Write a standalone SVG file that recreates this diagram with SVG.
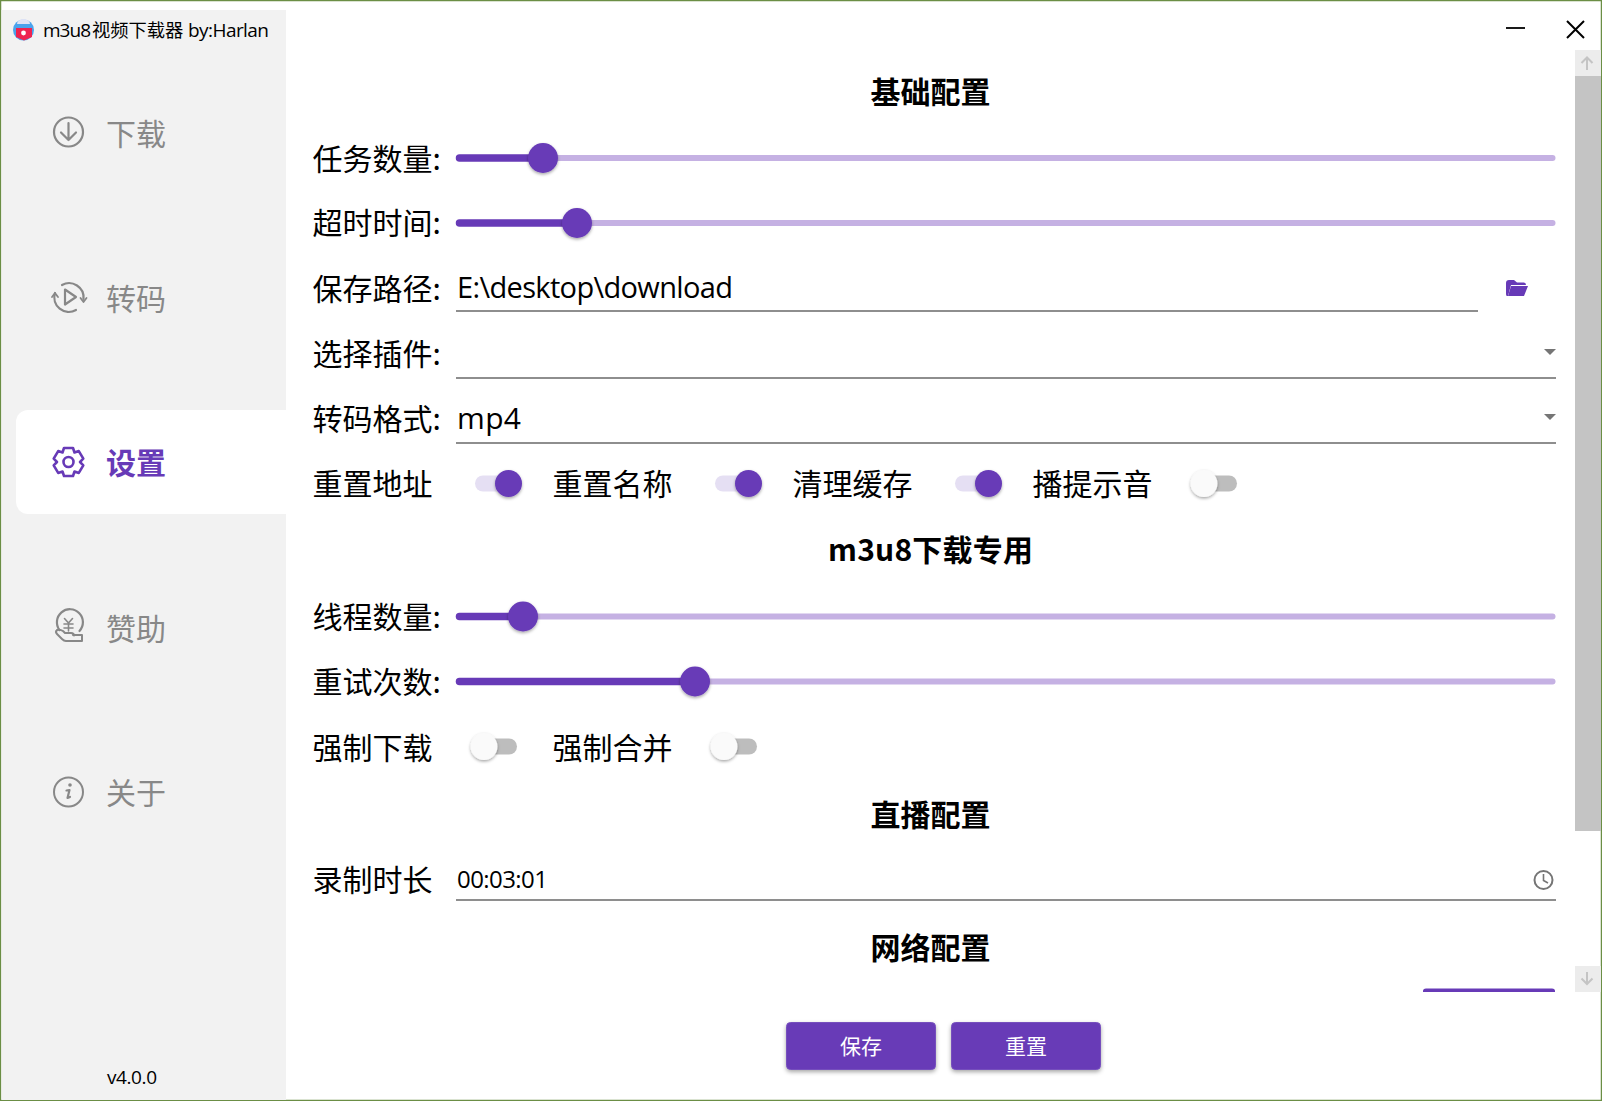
<svg xmlns="http://www.w3.org/2000/svg" width="1602" height="1101" viewBox="0 0 1602 1101">
<defs>
<style>
text{font-family:"Noto Sans CJK SC","Noto Sans",sans-serif;fill:#000}
.l{font-size:30px}
.h{font-size:30px;font-weight:700;text-anchor:middle}
.n{font-size:30px;fill:#888}
.ic{fill:none;stroke:#888;stroke-width:2.2;stroke-linecap:round;stroke-linejoin:round}
.v{font-family:"Open Sans","Noto Sans CJK SC",sans-serif}
.tb{stroke:#c5b1e3;stroke-width:6;stroke-linecap:round}
.ta{stroke:#673ab7;stroke-width:7.5;stroke-linecap:round}
.th{fill:#673ab7}
.u{stroke:#8e8e8e;stroke-width:2}
.on{fill:#e5dff3}
.off{fill:#bdbdbd}
.tf{fill:#fafafa}
.b{fill:#673ab7;stroke:#7650bd;stroke-width:1}
.bt{font-size:21px;fill:#fff;text-anchor:middle}
.ar{fill:#757575}
</style>
<filter id="s" x="-40%" y="-40%" width="180%" height="190%"><feDropShadow dx="0" dy="1.5" stdDeviation="1.6" flood-color="#000" flood-opacity=".35"/></filter>
<filter id="sb" x="-10%" y="-20%" width="120%" height="150%"><feDropShadow dx="0" dy="2" stdDeviation="2" flood-color="#000" flood-opacity=".35"/></filter>
</defs>
<rect width="1602" height="1101" fill="#fff"/>
<g id="window-frame" fill="none" stroke="#6b8e45" stroke-width="1.5"><rect x=".5" y=".5" width="1601" height="1100"/></g>
<g id="sidebar">
<rect x="1.5" y="10" width="284.5" height="1090" fill="#f2f2f2"/>
<rect x="16" y="410" width="270" height="104" rx="12" fill="#fff"/>
<path d="M272 410h14v104h-14z" fill="#fff"/>
</g>
<g id="app-title">
<path d="M13 30a10.500 10.500 0 0 1 21 0a10.500 10.500 0 0 1-21 0z" fill="#4aa3ec"/>
<path d="M17 24a6.500 5 0 0 1 13 0z" fill="#dfe3f5"/>
<path d="M16 28h16v9l-8 3.500-8-3.500z" fill="#ee2350"/>
<circle cx="23.500" cy="33" r="2.400" fill="#fff"/>
<text class="v" x="43" y="37" font-size="19" textLength="48">m3u8</text>
<text class="v" x="92" y="37" font-size="18.300">视频下载器</text>
<text class="v" x="188" y="37" font-size="19" textLength="81">by:Harlan</text>
</g>
<g id="nav-download">
<circle class="ic" cx="68.500" cy="132" r="14.500"/><path class="ic" d="M68.500 123v17M61 132.500l7.500 7.500 7.500-7.500"/>
<text class="n" x="106" y="145">下载</text>
</g>
<g id="nav-transcode">
<path class="ic" d="M62 285a14.500 14.500 0 0 1 21.500 14M76 310a14.500 14.500 0 0 1-21-17"/>
<path class="ic" d="M80.500 298l3 4 3-4M52 297l3-4 3 4" style="stroke-width:1.800"/>
<path class="ic" d="M65 289.500l11 7.500-11 7.500z"/>
<text class="n" x="106" y="310">转码</text>
</g>
<g id="nav-settings">
<path d="M64 448h9l1.500 4.500 4.300-1.400 4.500 7.600-3.300 3.300 3.300 3.300-4.500 7.600-4.300-1.400-1.500 4.500h-9l-1.500-4.500-4.300 1.400-4.500-7.600 3.300-3.300-3.300-3.300 4.500-7.600 4.300 1.400z" fill="none" stroke="#673ab7" stroke-width="2.600" stroke-linejoin="round"/>
<circle cx="68.500" cy="462" r="5" fill="none" stroke="#673ab7" stroke-width="2.600"/>
<text class="n" x="106" y="474" style="fill:#673ab7;font-weight:700">设置</text>
</g>
<g id="nav-sponsor">
<path class="ic" d="M59.500 630a13 13 0 1 1 20 1"/>
<path class="ic" d="M57 630q-2 2 0 4l5 5q2 2 4 2h16v-6h-9M57 630q3-1 6 1l2 2h6q3 0 3 2.500" style="stroke-width:2"/>
<path class="ic" d="M64.500 618.500l4 4.500 4-4.500M64 624h9M64 628h9M68.500 623v8" style="stroke-width:1.600"/>
<text class="n" x="106" y="640">赞助</text>
</g>
<g id="nav-about">
<circle class="ic" cx="68.500" cy="792" r="14.500" style="stroke-width:2"/>
<path class="ic" d="M66.500 790.500l3-.5-2 8 2.500-1"/><circle cx="70" cy="785" r="1.800" fill="#888"/>
<text class="n" x="106" y="804">关于</text>
</g>
<g id="version"><text class="v" x="107" y="1084" font-size="19" textLength="50">v4.0.0</text></g>
<g id="window-controls">
<path d="M1506 28h19" stroke="#000" stroke-width="1.800"/>
<path d="M1567 21l17 17M1584 21l-17 17" stroke="#000" stroke-width="2"/>
</g>
<g id="scrollbar">
<rect x="1575" y="50" width="26" height="26" fill="#ececec"/>
<rect x="1575" y="76" width="26" height="755" fill="#c4c4c4"/>
<rect x="1575" y="966" width="26" height="26" fill="#ececec"/>
<path d="M1587 70V58M1581.500 63l5.500-5.500 5.500 5.500M1587 972v12M1581.500 978.500l5.500 5.500 5.500-5.500" fill="none" stroke="#c4c4c4" stroke-width="2"/>
</g>
<g id="heading-basic"><text class="h" x="930.500" y="103">基础配置</text></g>
<g id="row-tasks"><text class="l" x="312.500" y="170">任务数量:</text>
<path class="tb" d="M459 158H1552.500"/><path class="ta" d="M459.500 158H542"/><circle class="th" cx="543" cy="158" r="15" filter="url(#s)"/></g>
<g id="row-timeout"><text class="l" x="312.500" y="234">超时时间:</text>
<path class="tb" d="M459 223H1552.500"/><path class="ta" d="M459.500 223H576"/><circle class="th" cx="577" cy="223" r="15" filter="url(#s)"/></g>
<g id="row-path"><text class="l" x="312.500" y="300">保存路径:</text>
<text class="v" x="457" y="298" font-size="29" textLength="276">E:\desktop\download</text>
<path class="u" d="M456 311H1478"/>
<path d="M1506 283q0-3 3-3h5l3 2.500h7q2 0 2 2.500h-15l-3 11h-1q-1 0-1-2z" fill="#673ab7"/>
<path d="M1511 286h17l-4 10h-16z" fill="#673ab7"/></g>
<g id="row-plugin"><text class="l" x="312.500" y="365">选择插件:</text>
<path class="u" d="M456 378H1556"/><path class="ar" d="M1544 349h12l-6 6z"/></g>
<g id="row-format"><text class="l" x="312.500" y="430">转码格式:</text>
<text class="v" x="457" y="429" font-size="30" textLength="64">mp4</text>
<path class="u" d="M456 443H1556"/><path class="ar" d="M1544 414h12l-6 6z"/></g>
<g id="row-toggles-1">
<text class="l" x="312.500" y="495">重置地址</text>
<rect class="on" x="475" y="475.500" width="45" height="16" rx="8"/><circle class="th" cx="508.500" cy="483.500" r="13.500" filter="url(#s)"/>
<text class="l" x="552.500" y="495">重置名称</text>
<rect class="on" x="715" y="475.500" width="45" height="16" rx="8"/><circle class="th" cx="748.500" cy="483.500" r="13.500" filter="url(#s)"/>
<text class="l" x="792.500" y="495">清理缓存</text>
<rect class="on" x="955" y="475.500" width="45" height="16" rx="8"/><circle class="th" cx="988.500" cy="483.500" r="13.500" filter="url(#s)"/>
<text class="l" x="1032.500" y="495">播提示音</text>
<rect class="off" x="1192" y="475.500" width="45" height="16" rx="8"/><circle class="tf" cx="1204" cy="483.500" r="13.500" filter="url(#s)"/>
</g>
<g id="heading-m3u8"><text class="h" style="text-anchor:start" x="828" y="561" textLength="205">m3u8下载专用</text></g>
<g id="row-threads"><text class="l" x="312.500" y="628">线程数量:</text>
<path class="tb" d="M459 616.500H1552.500"/><path class="ta" d="M459.500 616.500H522"/><circle class="th" cx="523" cy="616.500" r="15" filter="url(#s)"/></g>
<g id="row-retries"><text class="l" x="312.500" y="693">重试次数:</text>
<path class="tb" d="M459 681.500H1552.500"/><path class="ta" d="M459.500 681.500H695"/><circle class="th" cx="695" cy="681.500" r="15" filter="url(#s)"/></g>
<g id="row-toggles-2">
<text class="l" x="312.500" y="758.500">强制下载</text>
<rect class="off" x="472" y="738.500" width="45" height="16" rx="8"/><circle class="tf" cx="484" cy="746.500" r="13.500" filter="url(#s)"/>
<text class="l" x="552.500" y="758.500">强制合并</text>
<rect class="off" x="712" y="738.500" width="45" height="16" rx="8"/><circle class="tf" cx="724" cy="746.500" r="13.500" filter="url(#s)"/>
</g>
<g id="heading-live"><text class="h" x="930.500" y="825.500">直播配置</text></g>
<g id="row-duration"><text class="l" x="312.500" y="891">录制时长</text>
<text class="v" x="457" y="888" font-size="24" textLength="91">00:03:01</text>
<path class="u" d="M456 900H1556"/>
<circle cx="1543.500" cy="880" r="9" fill="none" stroke="#757575" stroke-width="2"/><path d="M1543.500 874v6.500l4.500 2.500" fill="none" stroke="#757575" stroke-width="1.600"/></g>
<g id="heading-network"><text class="h" x="930.500" y="958.500">网络配置</text></g>
<g id="clipped-button"><path d="M1423 992v-1q0-2.500 3-2.500h126q3 0 3 2.500v1z" fill="#673ab7"/></g>
<g id="btn-save"><rect class="b" x="786.500" y="1022.500" width="149" height="47" rx="4" filter="url(#sb)"/><text class="bt" x="861" y="1054">保存</text></g>
<g id="btn-reset"><rect class="b" x="951.500" y="1022.500" width="149" height="47" rx="4" filter="url(#sb)"/><text class="bt" x="1026" y="1054">重置</text></g>
</svg>
